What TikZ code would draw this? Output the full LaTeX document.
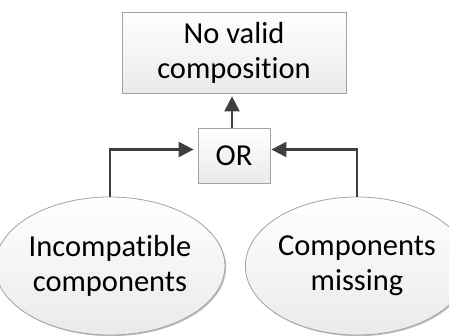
\documentclass[tikz,border=0pt]{standalone}
\usepackage{fontspec}
\setmainfont[Ligatures=NoCommon]{Carlito}
\usetikzlibrary{arrows.meta,shapes.geometric,shadows}
\definecolor{edgegray}{HTML}{A3A3A3}
\definecolor{fillgray}{HTML}{EAEAEA}
\definecolor{linegray}{HTML}{3F3F3F}
\begin{document}
\begin{tikzpicture}[x=1pt,y=-1pt,
  shape base/.style={draw=edgegray, line width=0.8pt, top color=white, bottom color=fillgray,
    inner sep=0pt, align=center, text=black, font=\fontsize{30.5}{35}\selectfont,
    drop shadow={shadow xshift=1.2pt, shadow yshift=-1.2pt, opacity=0.25, fill=black}},
  gatebox/.style={shape base, rectangle},
  % a tall strut on the first line sets the text a little below the middle
  cause/.style={shape base, ellipse, execute at begin node={\rule{0pt}{34pt}}},
  conn/.style={draw=linegray, line width=2.3pt, -{Triangle[length=15pt,width=15pt]}}
]
\useasboundingbox (0,0) rectangle (449,336);

% result box, OR gate and the two causes
\node[gatebox, minimum width=224pt, minimum height=81pt] (res) at (234,52.5) {No valid\\composition};
\node[gatebox, minimum width=72pt, minimum height=55pt] (orb) at (234,155.5) {OR};
\node[cause, minimum width=195pt, minimum height=138pt] (inc) at (110,266) {Incompatible\\components};
\node[cause, minimum width=190pt, minimum height=138pt] (mis) at (357,266) {Components\\missing};

% level of the horizontal feeds into the gate
\coordinate (feed) at (0,149.5);

\draw[conn, shorten >=3pt] (orb.north -| 232,0) -- (res.south -| 232,0);
\draw[conn, shorten >=4pt] (inc.north) |- (orb.west |- feed);
\draw[conn, shorten >=1pt] (mis.north) |- (orb.east |- feed);
\end{tikzpicture}
\end{document}
